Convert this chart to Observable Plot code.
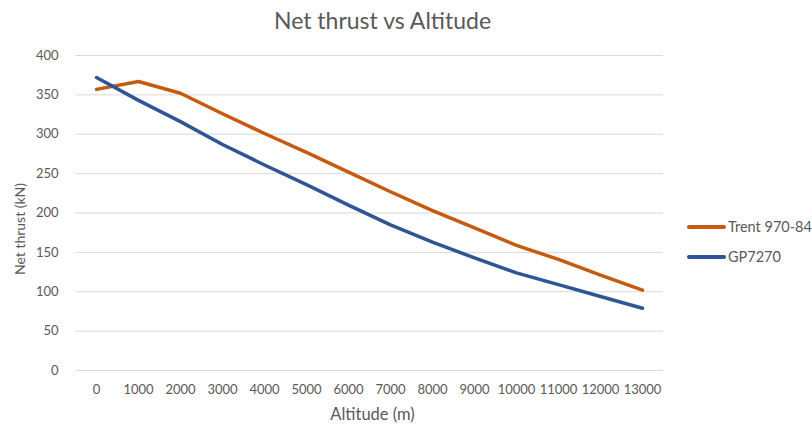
<!DOCTYPE html>
<html>
<head>
<meta charset="utf-8">
<script src="https://cdn.jsdelivr.net/npm/d3@7"></script>
<script src="https://cdn.jsdelivr.net/npm/@observablehq/plot@0.6"></script>
<style>
  html, body { margin: 0; padding: 0; background: #fff; }
  #chart svg { display: block; }
</style>
</head>
<body>
<div id="chart"></div>
<script>
const altitudes = ["0","1000","2000","3000","4000","5000","6000","7000","8000","9000","10000","11000","12000","13000"];
const trent = [357, 367, 352, 326, 301, 277, 252, 227, 203, 181, 159, 141, 121, 102];
const gp = [372, 343, 316, 287, 261, 236, 210, 185, 163, 143, 124, 109, 94, 79];
const seriesNames = ["Trent 970-84", "GP7270"];
const seriesColors = ["#C55A11", "#2F5597"];
const yTicks = [0, 50, 100, 150, 200, 250, 300, 350, 400];
const titleText = "Net thrust vs Altitude";
const xLabel = "Altitude (m)";
const yLabel = "Net thrust (kN)";

const data = [];
altitudes.forEach((a, i) => {
  data.push({alt: a, value: trent[i], series: seriesNames[0]});
  data.push({alt: a, value: gp[i], series: seriesNames[1]});
});

const font = "Lato, 'Open Sans', sans-serif";
const textColor = "#595959";

const chart = Plot.plot({
  width: 812,
  height: 425,
  marginLeft: 75,
  marginRight: 149,
  marginTop: 55,
  marginBottom: 55,
  style: {fontFamily: font, fontSize: "13px", color: textColor, background: "#fff"},
  x: {type: "point", domain: altitudes, padding: 0.5},
  y: {domain: [0, 400]},
  color: {domain: seriesNames, range: seriesColors},
  marks: [
    Plot.gridY(yTicks, {stroke: "#D9D9D9", strokeOpacity: 1, strokeWidth: 1}),
    Plot.axisY(yTicks, {tickSize: 0, tickPadding: 17, label: null, fill: textColor, fontSize: 13}),
    Plot.axisX({tickSize: 0, tickPadding: 14, label: null, fill: textColor, fontSize: 13}),
    Plot.line(data, {x: "alt", y: "value", z: "series", stroke: "series", strokeWidth: 3.5, strokeLinecap: "round", strokeLinejoin: "round"}),
    Plot.text([titleText], {frameAnchor: "top", lineAnchor: "middle", dy: -34, dx: 13, fontSize: 23, fill: textColor}),
    Plot.text([xLabel], {frameAnchor: "bottom", lineAnchor: "middle", dy: 44, dx: 3, fontSize: 16.5, fill: textColor})
  ]
});

const svg = d3.select(chart);

// Y axis title
svg.append("text")
  .attr("transform", "translate(20,229) rotate(-90)")
  .attr("text-anchor", "middle")
  .attr("dy", "0.35em")
  .attr("fill", textColor)
  .attr("font-size", 14)
  .attr("font-family", font)
  .text(yLabel);

// Legend in right margin
const leg = svg.append("g").attr("text-anchor", "start");
seriesNames.forEach((name, i) => {
  const y = 227 + i * 30;
  leg.append("line").attr("x1", 689).attr("x2", 724).attr("y1", y).attr("y2", y)
    .attr("stroke", seriesColors[i]).attr("stroke-width", 4).attr("stroke-linecap", "round");
  leg.append("text").attr("x", 728).attr("y", y).attr("dy", "0.35em")
    .attr("text-anchor", "start")
    .attr("fill", textColor).attr("font-size", 14.5).attr("font-family", font).text(name);
});

document.getElementById("chart").appendChild(chart);
</script>
</body>
</html>
